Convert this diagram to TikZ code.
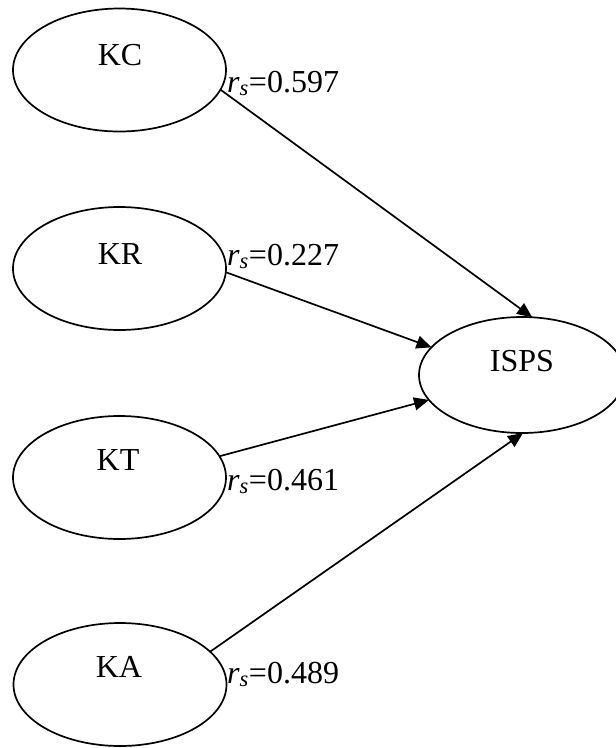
\documentclass[tikz,border=0pt]{standalone}
\usepackage{fontspec}
\setmainfont{Liberation Serif}
\usetikzlibrary{shapes.geometric,arrows.meta}

\tikzset{
  varbox/.style={draw, ellipse, line width=1.7pt, inner sep=0pt, outer sep=0pt,
              minimum width=213pt, minimum height=123pt},
  vartext/.style={anchor=base, inner sep=0pt, font=\fontsize{32}{38}\selectfont},
  coeftext/.style={anchor=base west, inner sep=0pt, font=\fontsize{32}{38}\selectfont},
  linkarrow/.style={line width=1.7pt, -{Triangle[length=15pt,width=13pt]}},
}
\newcommand{\rsval}[1]{\textit{r}\textsubscript{\textit{s}}=#1}

\begin{document}
\begin{tikzpicture}[x=1pt, y=-1pt]
  \useasboundingbox (0,0) rectangle (616,748);

  % predictor constructs
  \node[varbox] (kc) at (119.5,70) {};
  \node[varbox] (kr) at (119.5,268.5) {};
  \node[varbox] (kt) at (119.5,477.5) {};
  \node[varbox] (ka) at (120,684.5) {};
  % outcome construct
  \node[varbox, minimum width=206pt, minimum height=116pt] (isps) at (522,375) {};

  \node[vartext] (kct) at (120,65) {KC};
  \node[vartext] (krt) at (120,264) {KR};
  \node[vartext] (ktt) at (118,470) {KT};
  \node[vartext] (kat) at (119,677) {KA};
  \node[vartext] (ispst) at (522,371.7) {ISPS};

  % paths with correlation coefficients
  \draw[linkarrow] (kc.-11) -- (isps.80);
  \draw[linkarrow] (kr.-2) -- (isps.163);
  \draw[linkarrow] (kt.12) -- (isps.195);
  \draw[linkarrow] (ka.20) -- (isps.-89);

  \node[coeftext] (c1) at (227,92) {\rsval{0.597}};
  \node[coeftext] (c2) at (227,265) {\rsval{0.227}};
  \node[coeftext] (c3) at (227,490) {\rsval{0.461}};
  \node[coeftext] (c4) at (227,683) {\rsval{0.489}};
\end{tikzpicture}
\end{document}
